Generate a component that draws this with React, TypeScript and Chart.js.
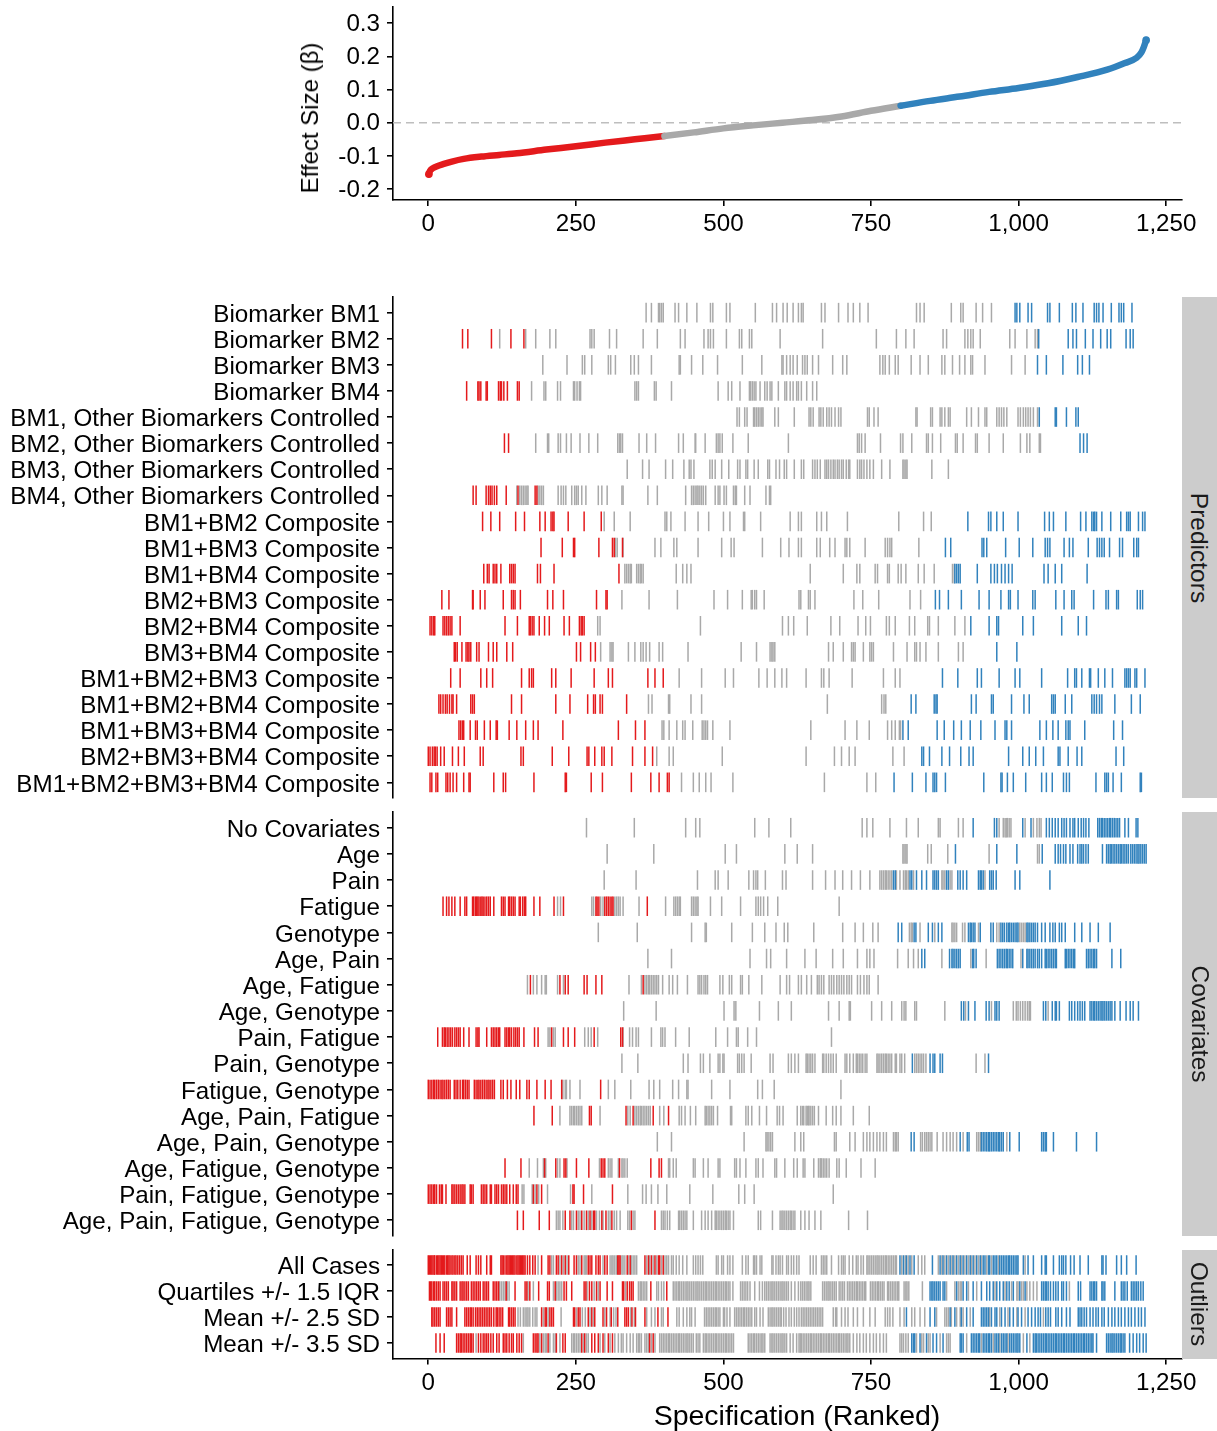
import React, { useEffect, useRef } from "react";
import { Chart, registerables } from "chart.js";

Chart.register(...registerables);

const FONT = "'Liberation Sans', Arial, Helvetica, sans-serif";
const RED = "#E41A1C";
const GRAY = "#A9A9A9";
const BLUE = "#3182BD";

// ---------- Top panel: ranked effect sizes ----------
const curveRanks = [1, 3, 8, 15, 25, 40, 60, 90, 120, 150, 200, 250, 300, 350, 400, 450, 500, 550, 600, 650, 700, 750, 800, 850, 900, 950, 1000, 1050, 1100, 1150, 1180, 1200, 1208, 1212, 1216];
const curveEffects = [-0.155, -0.145, -0.137, -0.131, -0.125, -0.117, -0.109, -0.102, -0.097, -0.092, -0.081, -0.071, -0.06, -0.05, -0.04, -0.029, -0.017, -0.008, 0.0, 0.008, 0.019, 0.036, 0.051, 0.066, 0.079, 0.093, 0.105, 0.119, 0.138, 0.16, 0.18, 0.196, 0.212, 0.228, 0.249];
const negSigEnd = 400;
const posSigStart = 800;

const xTickValues = [0, 250, 500, 750, 1000, 1250];
const yTickValues = [-0.2, -0.1, 0, 0.1, 0.2, 0.3];

// ---------- Predictors ----------
const predictorLabels = [
  "Biomarker BM1", "Biomarker BM2", "Biomarker BM3", "Biomarker BM4",
  "BM1, Other Biomarkers Controlled", "BM2, Other Biomarkers Controlled",
  "BM3, Other Biomarkers Controlled", "BM4, Other Biomarkers Controlled",
  "BM1+BM2 Composite", "BM1+BM3 Composite", "BM1+BM4 Composite",
  "BM2+BM3 Composite", "BM2+BM4 Composite", "BM3+BM4 Composite",
  "BM1+BM2+BM3 Composite", "BM1+BM2+BM4 Composite", "BM1+BM3+BM4 Composite",
  "BM2+BM3+BM4 Composite", "BM1+BM2+BM3+BM4 Composite",
];
const predictorRed = [
  [],
  [58, 67, 107, 140, 162],
  [],
  [65, 84, 86, 89, 98, 100, 119, 122, 124, 128, 134, 151, 154],
  [],
  [129, 136],
  [],
  [76, 81, 98, 102, 105, 108, 112, 116, 132, 152, 181, 184],
  [92, 106, 121, 148, 163, 189, 198, 208, 211, 213, 237, 264, 293],
  [191, 227, 246, 248, 289, 312, 315, 329],
  [94, 100, 103, 110, 113, 116, 123, 138, 141, 144, 147, 185, 190, 213, 323],
  [23, 35, 75, 76, 88, 96, 127, 141, 144, 147, 156, 202, 211, 229, 285, 301, 303],
  [3, 6, 9, 11, 25, 28, 31, 34, 37, 40, 54, 130, 151, 171, 173, 176, 179, 188, 197, 205, 230, 239, 256, 259, 261, 264],
  [44, 46, 49, 57, 64, 67, 69, 72, 82, 86, 102, 110, 116, 133, 143, 251, 258, 275, 283],
  [38, 54, 89, 99, 109, 158, 171, 175, 178, 209, 216, 242, 281, 305, 312, 372, 384, 398],
  [18, 21, 25, 29, 32, 36, 40, 42, 48, 72, 75, 78, 141, 158, 216, 240, 270, 280, 283, 291, 295, 336],
  [52, 55, 58, 60, 71, 80, 83, 95, 105, 115, 117, 137, 150, 165, 178, 186, 228, 322, 351, 367],
  [0, 3, 7, 10, 12, 15, 21, 27, 41, 51, 61, 88, 93, 157, 161, 210, 238, 269, 272, 282, 294, 298, 311, 346, 367, 380],
  [3, 6, 13, 16, 30, 33, 37, 42, 48, 60, 69, 71, 111, 127, 131, 179, 232, 234, 276, 295, 344, 377, 391, 405, 408],
];
const predictorGray = [
  [369, 378, 390, 392, 395, 398, 418, 424, 438, 455, 478, 482, 505, 511, 554, 583, 590, 601, 608, 618, 627, 632, 635, 666, 672, 695, 711, 720, 731, 745, 827, 833, 840, 886, 902, 906, 928, 939, 954],
  [121, 165, 182, 206, 216, 274, 277, 281, 307, 319, 364, 388, 427, 435, 467, 474, 478, 483, 505, 527, 531, 544, 548, 596, 668, 759, 793, 809, 823, 872, 878, 909, 914, 919, 923, 935, 985, 994, 1014, 1028, 1032],
  [194, 235, 261, 265, 277, 305, 309, 317, 343, 349, 356, 378, 425, 427, 446, 465, 490, 532, 565, 599, 601, 607, 613, 618, 625, 634, 638, 642, 651, 661, 685, 702, 709, 765, 770, 774, 781, 791, 796, 818, 833, 847, 870, 875, 888, 900, 909, 919, 922, 943, 988, 1011],
  [175, 196, 199, 219, 224, 246, 248, 252, 256, 258, 350, 353, 356, 383, 386, 412, 491, 508, 514, 528, 544, 546, 549, 552, 555, 562, 570, 574, 579, 582, 593, 604, 607, 613, 618, 624, 627, 632, 641, 651, 658],
  [523, 527, 536, 540, 551, 553, 556, 559, 562, 565, 567, 587, 593, 620, 645, 648, 652, 662, 665, 669, 675, 679, 683, 689, 695, 699, 744, 747, 755, 762, 826, 828, 851, 854, 867, 870, 875, 881, 884, 912, 920, 932, 943, 946, 963, 967, 971, 975, 980, 999, 1003, 1008, 1012, 1016, 1020, 1025, 1032],
  [182, 202, 204, 220, 224, 234, 242, 257, 272, 287, 321, 324, 326, 329, 357, 370, 385, 424, 432, 452, 453, 469, 488, 491, 494, 498, 516, 542, 610, 727, 730, 734, 740, 766, 800, 804, 819, 844, 847, 854, 868, 893, 896, 906, 927, 930, 950, 974, 1003, 1014, 1019, 1035, 1037],
  [337, 363, 374, 402, 414, 433, 442, 445, 450, 477, 481, 486, 497, 509, 524, 528, 538, 541, 552, 559, 575, 578, 589, 595, 603, 607, 620, 632, 636, 651, 655, 659, 664, 672, 675, 678, 682, 686, 689, 693, 696, 700, 703, 708, 712, 714, 727, 731, 734, 738, 743, 748, 754, 768, 782, 804, 806, 809, 811, 853, 881],
  [150, 155, 158, 161, 164, 167, 169, 186, 189, 192, 195, 220, 225, 229, 233, 243, 248, 251, 254, 260, 267, 288, 294, 303, 328, 330, 372, 388, 436, 446, 449, 452, 455, 457, 460, 463, 466, 470, 486, 491, 494, 501, 505, 517, 520, 522, 536, 545, 572, 578, 580],
  [298, 315, 342, 401, 404, 411, 435, 457, 475, 500, 511, 534, 536, 563, 613, 627, 632, 658, 666, 675, 710, 797, 839, 852],
  [317, 320, 330, 384, 394, 416, 421, 457, 497, 513, 518, 566, 597, 611, 627, 632, 658, 664, 680, 689, 706, 709, 714, 740, 774, 778, 782, 785, 831],
  [333, 336, 339, 342, 344, 353, 356, 359, 361, 364, 420, 431, 438, 445, 647, 703, 726, 731, 757, 761, 778, 781, 796, 801, 809, 830, 840, 857, 888, 891],
  [328, 374, 422, 484, 507, 532, 547, 549, 553, 556, 569, 628, 631, 644, 647, 655, 721, 736, 763, 816, 834],
  [287, 291, 461, 600, 610, 619, 642, 682, 697, 728, 741, 749, 776, 781, 791, 815, 824, 846, 849, 864, 892, 909],
  [292, 308, 311, 313, 339, 350, 360, 364, 369, 375, 391, 397, 440, 530, 556, 579, 582, 584, 587, 678, 686, 703, 717, 720, 723, 737, 748, 751, 754, 788, 811, 824, 827, 833, 843, 864, 898, 906],
  [425, 463, 503, 517, 560, 574, 587, 599, 607, 640, 666, 670, 679, 718, 771, 791, 799],
  [373, 379, 407, 409, 445, 463, 676, 768, 772, 775],
  [396, 399, 408, 421, 431, 435, 448, 464, 467, 470, 473, 482, 511, 648, 706, 726, 747, 778, 785, 791, 798, 800],
  [387, 408, 415, 498, 640, 688, 700, 713, 723, 787, 806],
  [429, 449, 459, 470, 479, 516, 671, 743, 758],
];
const predictorBlue = [
  [994, 997, 1002, 1016, 1022, 1049, 1053, 1069, 1091, 1097, 1109, 1128, 1132, 1136, 1143, 1157, 1170, 1174, 1178, 1192],
  [1034, 1084, 1092, 1098, 1113, 1126, 1139, 1150, 1156, 1182, 1189, 1194],
  [1032, 1047, 1075, 1100, 1108, 1120],
  [],
  [1035, 1062, 1064, 1081, 1097, 1101],
  [1104, 1110, 1116],
  [],
  [],
  [914, 949, 953, 963, 974, 999, 1044, 1052, 1059, 1080, 1105, 1114, 1124, 1127, 1129, 1132, 1141, 1156, 1173, 1183, 1186, 1189, 1203, 1210, 1214],
  [876, 885, 938, 941, 946, 978, 1001, 1024, 1045, 1049, 1053, 1077, 1086, 1092, 1118, 1133, 1137, 1141, 1145, 1154, 1171, 1176, 1195, 1200, 1203],
  [892, 895, 898, 901, 930, 953, 959, 964, 971, 977, 983, 989, 1043, 1050, 1062, 1073, 1116],
  [859, 866, 881, 903, 933, 950, 970, 983, 986, 999, 1024, 1028, 1063, 1077, 1090, 1094, 1127, 1148, 1152, 1166, 1169, 1201, 1206, 1210],
  [919, 950, 963, 966, 1007, 1025, 1073, 1101, 1115],
  [963, 997],
  [871, 897, 930, 937, 967, 994, 1002, 1039, 1083, 1095, 1098, 1107, 1120, 1122, 1135, 1146, 1159, 1180, 1183, 1186, 1189, 1197, 1200, 1214],
  [818, 826, 857, 860, 862, 920, 928, 954, 957, 988, 1009, 1018, 1056, 1059, 1062, 1079, 1090, 1124, 1128, 1132, 1137, 1141, 1163, 1191, 1206],
  [804, 813, 862, 874, 890, 903, 918, 936, 960, 977, 980, 988, 1036, 1047, 1058, 1067, 1080, 1084, 1087, 1112, 1161, 1176],
  [836, 839, 849, 870, 883, 902, 916, 923, 983, 1007, 1018, 1029, 1042, 1067, 1070, 1084, 1099, 1107, 1165, 1178],
  [789, 820, 843, 855, 858, 861, 876, 941, 970, 972, 981, 991, 1012, 1039, 1047, 1057, 1076, 1081, 1086, 1131, 1146, 1149, 1152, 1160, 1174, 1206, 1208],
];

// ---------- Covariates ----------
const covariateLabels = [
  "No Covariates", "Age", "Pain", "Fatigue", "Genotype", "Age, Pain", "Age, Fatigue",
  "Age, Genotype", "Pain, Fatigue", "Pain, Genotype", "Fatigue, Genotype",
  "Age, Pain, Fatigue", "Age, Pain, Genotype", "Age, Fatigue, Genotype",
  "Pain, Fatigue, Genotype", "Age, Pain, Fatigue, Genotype",
];
const covariateRed = [
  [],
  [],
  [],
  [25, 31, 35, 40, 45, 54, 62, 65, 75, 77, 80, 82, 84, 86, 89, 91, 93, 96, 99, 102, 105, 111, 124, 127, 130, 136, 138, 141, 144, 147, 154, 156, 160, 163, 165, 179, 189, 213, 229, 284, 286, 289, 299, 302, 305, 308, 311, 313, 371],
  [],
  [],
  [173, 223, 232, 237, 264, 269, 284, 294, 364],
  [],
  [16, 24, 27, 29, 32, 35, 38, 41, 45, 48, 51, 54, 60, 69, 81, 84, 86, 99, 107, 110, 113, 116, 119, 121, 130, 133, 136, 138, 141, 145, 148, 151, 154, 162, 180, 186, 209, 229, 237, 248, 281, 326, 329],
  [],
  [0, 3, 6, 9, 11, 14, 17, 20, 23, 25, 28, 31, 34, 37, 44, 47, 50, 54, 58, 60, 63, 66, 69, 78, 81, 84, 86, 89, 92, 95, 98, 101, 103, 106, 109, 112, 123, 127, 134, 140, 149, 155, 167, 171, 184, 198, 208, 226, 292],
  [179, 210, 273, 276, 335, 347, 381, 407],
  [],
  [130, 157, 197, 216, 230, 233, 251, 272, 293, 296, 299, 324, 377, 391, 395],
  [0, 3, 6, 9, 11, 14, 19, 22, 24, 30, 40, 42, 45, 48, 51, 54, 57, 59, 62, 71, 73, 76, 90, 93, 96, 99, 105, 107, 113, 116, 119, 124, 127, 130, 133, 138, 144, 149, 152, 178, 184, 192, 245, 247, 263, 312],
  [151, 161, 188, 205, 232, 240, 251, 260, 268, 274, 280, 282, 294, 301, 311, 344, 384],
];
const covariateGray = [
  [268, 349, 436, 453, 460, 553, 577, 614, 735, 743, 753, 782, 810, 830, 864, 867, 898, 906, 967, 974, 977, 979, 981, 984, 987, 1011, 1025, 1031, 1035, 1038],
  [303, 382, 503, 522, 604, 625, 651, 804, 806, 809, 811, 846, 852, 880, 950, 1032, 1035],
  [298, 352, 456, 486, 491, 508, 543, 551, 555, 558, 571, 600, 606, 651, 673, 689, 702, 717, 732, 748, 765, 768, 771, 774, 776, 779, 782, 785, 793, 799, 805, 808, 810, 813, 822, 870, 872, 875, 884, 887, 943],
  [219, 224, 277, 280, 292, 296, 316, 319, 322, 325, 330, 357, 402, 416, 419, 422, 425, 427, 446, 449, 452, 455, 457, 478, 497, 529, 555, 559, 563, 568, 575, 592, 696],
  [288, 354, 446, 469, 471, 514, 549, 570, 589, 603, 609, 653, 702, 723, 737, 753, 762, 815, 818, 820, 833, 858, 887, 889, 892, 895, 905, 909, 932, 963, 967, 1002, 1005, 1008, 1011],
  [372, 412, 545, 573, 580, 607, 638, 657, 685, 703, 727, 743, 748, 755, 795, 813, 822, 830, 870, 919, 945, 1004],
  [168, 178, 184, 192, 198, 200, 219, 229, 340, 361, 367, 370, 373, 375, 378, 381, 384, 387, 390, 397, 408, 414, 422, 439, 457, 460, 463, 467, 470, 473, 494, 499, 510, 514, 529, 532, 543, 565, 596, 607, 612, 627, 632, 641, 649, 659, 662, 666, 670, 679, 683, 687, 692, 696, 700, 704, 709, 713, 717, 727, 732, 738, 743, 747, 762],
  [331, 386, 501, 518, 521, 561, 593, 615, 678, 696, 713, 715, 751, 768, 785, 802, 806, 809, 824, 827, 875, 910, 954, 991, 996, 999, 1003, 1007, 1011, 1015, 1018, 1020, 1050],
  [203, 206, 212, 215, 265, 271, 276, 287, 330, 341, 346, 352, 356, 378, 394, 397, 401, 419, 442, 487, 507, 522, 525, 541, 556, 683],
  [328, 355, 432, 440, 461, 466, 477, 491, 494, 499, 501, 524, 527, 531, 535, 547, 579, 584, 610, 615, 621, 627, 640, 642, 645, 648, 651, 655, 668, 670, 674, 678, 682, 686, 691, 706, 709, 714, 720, 725, 727, 730, 733, 736, 740, 743, 760, 762, 765, 768, 771, 774, 776, 779, 782, 785, 791, 793, 799, 802, 807, 824, 827, 830, 833, 836, 839, 843, 928, 943],
  [228, 232, 234, 240, 257, 305, 316, 343, 374, 382, 392, 414, 424, 438, 440, 480, 511, 558, 566, 586, 699],
  [223, 240, 243, 246, 248, 251, 254, 257, 260, 291, 338, 342, 350, 353, 356, 359, 361, 364, 367, 370, 373, 376, 392, 399, 425, 429, 435, 444, 453, 469, 471, 474, 477, 480, 483, 490, 512, 514, 538, 542, 548, 561, 573, 591, 595, 601, 625, 631, 634, 636, 640, 642, 644, 645, 648, 651, 654, 661, 674, 685, 691, 699, 720, 747],
  [388, 412, 535, 572, 574, 577, 580, 583, 621, 631, 636, 688, 691, 714, 723, 737, 743, 748, 754, 760, 765, 771, 776, 788, 791, 793, 796, 834, 837, 841, 844, 847, 850, 853, 862, 872, 878, 884, 889, 895, 906, 929, 932, 935, 980],
  [171, 185, 195, 199, 219, 223, 235, 290, 305, 308, 311, 322, 328, 330, 333, 337, 407, 409, 415, 420, 449, 452, 466, 474, 491, 494, 519, 522, 528, 538, 555, 559, 567, 587, 590, 604, 619, 625, 635, 638, 653, 661, 664, 666, 669, 672, 675, 679, 692, 696, 708, 733, 757],
  [159, 162, 176, 181, 187, 202, 241, 277, 338, 363, 369, 378, 389, 404, 443, 482, 526, 536, 552, 686],
  [217, 220, 223, 228, 243, 246, 254, 257, 264, 271, 277, 285, 290, 296, 305, 308, 315, 319, 325, 338, 341, 347, 350, 395, 398, 401, 405, 409, 424, 426, 429, 432, 435, 438, 449, 463, 469, 474, 480, 486, 488, 491, 494, 497, 500, 503, 505, 508, 511, 517, 559, 563, 583, 596, 599, 601, 604, 607, 610, 613, 615, 618, 621, 631, 638, 645, 655, 665, 712, 744],
];
const covariateBlue = [
  [923, 959, 963, 1007, 1021, 1047, 1052, 1057, 1062, 1067, 1073, 1077, 1081, 1087, 1092, 1095, 1101, 1106, 1110, 1114, 1119, 1134, 1137, 1140, 1142, 1145, 1148, 1151, 1154, 1156, 1159, 1162, 1165, 1168, 1171, 1180, 1186, 1199, 1202],
  [893, 963, 997, 1040, 1062, 1067, 1071, 1076, 1080, 1087, 1092, 1100, 1104, 1107, 1110, 1114, 1118, 1142, 1149, 1152, 1155, 1157, 1160, 1163, 1166, 1169, 1172, 1174, 1177, 1180, 1183, 1186, 1190, 1193, 1196, 1199, 1202, 1204, 1207, 1210, 1213, 1216],
  [788, 791, 816, 819, 827, 836, 844, 855, 858, 861, 864, 878, 881, 897, 901, 906, 912, 932, 935, 937, 940, 951, 954, 957, 962, 994, 1002, 1053],
  [],
  [796, 802, 823, 826, 847, 854, 864, 870, 915, 918, 920, 923, 926, 935, 953, 957, 970, 973, 976, 980, 983, 985, 988, 991, 994, 997, 999, 1014, 1016, 1019, 1022, 1025, 1028, 1032, 1039, 1045, 1053, 1058, 1062, 1069, 1073, 1079, 1095, 1107, 1121, 1135, 1155],
  [836, 841, 883, 887, 889, 892, 895, 898, 901, 922, 924, 928, 964, 967, 970, 973, 976, 979, 981, 984, 987, 990, 1007, 1014, 1016, 1019, 1022, 1025, 1028, 1032, 1035, 1039, 1045, 1047, 1050, 1053, 1056, 1059, 1062, 1064, 1079, 1081, 1084, 1087, 1090, 1093, 1095, 1115, 1118, 1121, 1124, 1127, 1129, 1132, 1158, 1173],
  [],
  [903, 907, 915, 926, 945, 950, 960, 963, 967, 1042, 1046, 1057, 1062, 1064, 1069, 1086, 1090, 1095, 1100, 1104, 1108, 1112, 1121, 1124, 1127, 1129, 1132, 1135, 1138, 1141, 1143, 1146, 1149, 1152, 1155, 1158, 1163, 1172, 1182, 1189, 1194, 1203],
  [],
  [820, 850, 855, 858, 867, 871, 949],
  [],
  [],
  [818, 823, 901, 913, 916, 937, 940, 943, 946, 949, 951, 954, 957, 960, 963, 966, 968, 971, 974, 985, 1001, 1039, 1042, 1045, 1047, 1059, 1098, 1132],
  [],
  [],
  [],
];

// ---------- Outliers ----------
const outlierLabels = ["All Cases", "Quartiles +/- 1.5 IQR", "Mean +/- 2.5 SD", "Mean +/- 3.5 SD"];
const outlierRed = [
  [0, 2, 4, 6, 8, 10, 11, 14, 16, 18, 20, 22, 24, 26, 28, 31, 33, 35, 37, 40, 42, 45, 47, 50, 53, 56, 59, 66, 71, 81, 85, 89, 99, 105, 107, 123, 125, 127, 130, 133, 135, 137, 139, 141, 143, 145, 147, 150, 152, 154, 156, 158, 160, 162, 164, 168, 172, 177, 181, 192, 203, 206, 217, 220, 226, 232, 238, 247, 251, 260, 271, 274, 277, 284, 288, 291, 299, 303, 321, 323, 325, 337, 342, 367, 373, 378, 384, 390, 392, 398],
  [2, 4, 6, 9, 11, 14, 17, 20, 25, 28, 31, 34, 40, 42, 45, 48, 54, 57, 59, 62, 65, 68, 73, 76, 79, 82, 85, 88, 93, 96, 99, 102, 110, 113, 116, 119, 132, 147, 164, 167, 172, 187, 202, 205, 215, 230, 234, 243, 264, 267, 273, 277, 285, 291, 303, 312, 329, 331, 337, 341, 344, 347, 377, 404],
  [6, 8, 11, 14, 17, 20, 31, 34, 37, 40, 48, 62, 65, 68, 71, 73, 76, 80, 83, 86, 89, 92, 95, 98, 101, 104, 107, 111, 115, 117, 120, 123, 126, 136, 138, 141, 144, 147, 192, 198, 200, 206, 209, 212, 246, 248, 254, 257, 271, 277, 282, 296, 302, 310, 321, 333, 336, 339, 345, 351, 367, 389, 406],
  [13, 20, 27, 48, 51, 54, 56, 59, 62, 65, 68, 71, 73, 76, 85, 89, 93, 96, 99, 102, 106, 110, 116, 120, 127, 130, 133, 137, 141, 144, 150, 154, 158, 178, 181, 184, 186, 192, 203, 217, 228, 232, 260, 265, 277, 282, 288, 296, 305, 312, 375, 381],
];
const outlierGray = [
  [186, 209, 212, 223, 229, 235, 254, 257, 264, 266, 268, 296, 308, 311, 313, 316, 319, 328, 330, 333, 339, 344, 347, 350, 353, 370, 375, 381, 387, 395, 401, 404, 407, 412, 415, 420, 425, 431, 438, 449, 453, 457, 461, 465, 488, 491, 497, 500, 507, 511, 516, 532, 538, 542, 551, 553, 556, 562, 565, 582, 584, 589, 593, 596, 600, 607, 610, 615, 619, 624, 628, 647, 652, 657, 666, 669, 672, 675, 683, 695, 700, 703, 706, 713, 719, 725, 728, 733, 737, 743, 745, 748, 751, 754, 757, 760, 762, 765, 768, 771, 774, 776, 779, 782, 785, 788, 791, 793, 802, 808, 813, 819, 830, 836, 841, 864, 870, 875, 881, 887, 892, 898, 903, 909, 915, 920, 926, 932, 937, 946, 954, 966, 1011],
  [121, 124, 127, 130, 134, 137, 169, 178, 212, 217, 220, 223, 226, 269, 281, 288, 334, 356, 359, 361, 364, 367, 370, 387, 390, 395, 399, 415, 418, 421, 424, 426, 429, 432, 435, 438, 440, 443, 446, 449, 452, 455, 457, 460, 463, 466, 469, 471, 474, 477, 480, 483, 486, 488, 491, 494, 497, 500, 503, 505, 508, 511, 516, 529, 532, 535, 538, 541, 545, 553, 561, 566, 570, 573, 576, 579, 582, 584, 587, 590, 593, 596, 599, 601, 604, 607, 610, 615, 621, 627, 631, 634, 637, 640, 643, 645, 648, 668, 671, 674, 677, 679, 682, 685, 688, 691, 696, 699, 702, 705, 710, 713, 716, 719, 722, 725, 727, 730, 733, 736, 739, 741, 749, 752, 755, 758, 761, 763, 766, 769, 772, 778, 780, 783, 786, 789, 792, 795, 797, 806, 809, 811, 814, 837, 878, 892, 898, 901, 903, 915, 929, 960, 977, 988, 997, 999, 1005, 1008, 1014, 1019, 1025, 1031, 1086],
  [152, 156, 161, 164, 167, 169, 172, 177, 181, 184, 195, 203, 225, 251, 261, 266, 274, 280, 299, 308, 314, 318, 343, 349, 370, 378, 384, 395, 398, 421, 425, 432, 438, 443, 446, 452, 468, 471, 474, 477, 480, 483, 486, 488, 491, 494, 500, 502, 506, 511, 519, 522, 525, 528, 531, 534, 536, 539, 542, 545, 548, 553, 556, 562, 567, 576, 579, 582, 584, 587, 590, 593, 596, 598, 602, 606, 611, 615, 620, 624, 628, 632, 635, 638, 641, 644, 647, 650, 653, 656, 659, 662, 665, 668, 686, 690, 692, 700, 706, 711, 720, 727, 737, 748, 757, 774, 778, 782, 787, 799, 806, 819, 824, 833, 841, 861, 875, 878, 881, 886, 895, 901, 906, 918, 951, 968, 982, 997, 1011, 1042],
  [81, 161, 189, 195, 198, 200, 206, 212, 215, 223, 243, 246, 248, 251, 254, 257, 263, 268, 271, 291, 299, 308, 316, 322, 327, 330, 336, 342, 347, 353, 356, 358, 361, 367, 370, 373, 378, 384, 392, 395, 398, 401, 404, 407, 409, 412, 415, 418, 421, 424, 426, 429, 432, 435, 438, 440, 443, 446, 449, 454, 457, 460, 466, 469, 471, 474, 477, 480, 483, 486, 488, 491, 494, 497, 500, 503, 505, 508, 511, 514, 517, 542, 545, 548, 551, 553, 556, 559, 562, 565, 567, 570, 579, 582, 584, 587, 590, 593, 596, 599, 601, 604, 607, 613, 618, 624, 628, 630, 632, 635, 638, 641, 644, 647, 649, 652, 655, 658, 661, 664, 666, 669, 672, 675, 678, 680, 683, 686, 689, 692, 695, 697, 700, 703, 706, 709, 711, 714, 720, 726, 731, 737, 742, 748, 754, 759, 765, 771, 776, 799, 802, 805, 809, 813, 827, 836, 839, 847, 850, 867, 878, 881, 884, 912, 937, 957, 968, 982, 1008, 1019],
];
const outlierBlue = [
  [799, 805, 810, 816, 823, 854, 867, 872, 878, 884, 889, 895, 901, 906, 912, 918, 923, 929, 935, 940, 943, 949, 951, 957, 960, 963, 968, 971, 974, 977, 980, 983, 985, 988, 991, 994, 997, 999, 1008, 1016, 1025, 1039, 1045, 1047, 1059, 1069, 1073, 1076, 1080, 1088, 1094, 1104, 1118, 1141, 1143, 1148, 1166, 1174, 1183, 1199],
  [850, 853, 855, 858, 861, 864, 867, 872, 875, 895, 906, 912, 923, 937, 946, 951, 957, 963, 968, 974, 980, 984, 991, 1002, 1011, 1039, 1042, 1045, 1047, 1050, 1054, 1059, 1063, 1067, 1073, 1076, 1081, 1101, 1105, 1121, 1124, 1127, 1129, 1132, 1141, 1143, 1146, 1163, 1174, 1177, 1180, 1184, 1191, 1194, 1197, 1200, 1203, 1207, 1211],
  [810, 850, 858, 884, 892, 903, 912, 923, 937, 940, 943, 946, 949, 954, 960, 963, 971, 977, 985, 991, 999, 1005, 1016, 1022, 1028, 1033, 1037, 1046, 1050, 1054, 1063, 1067, 1073, 1081, 1087, 1101, 1104, 1107, 1111, 1115, 1121, 1126, 1131, 1135, 1141, 1145, 1152, 1158, 1163, 1169, 1174, 1180, 1186, 1191, 1197, 1203, 1208, 1214],
  [819, 822, 824, 833, 844, 855, 861, 872, 901, 903, 906, 920, 923, 926, 929, 932, 934, 940, 943, 946, 949, 951, 954, 960, 963, 966, 971, 974, 977, 980, 985, 988, 991, 994, 997, 999, 1002, 1014, 1025, 1028, 1030, 1033, 1036, 1039, 1042, 1045, 1047, 1050, 1053, 1056, 1059, 1062, 1064, 1067, 1070, 1073, 1076, 1078, 1081, 1084, 1087, 1090, 1093, 1095, 1098, 1101, 1104, 1107, 1110, 1112, 1115, 1118, 1121, 1124, 1126, 1132, 1149, 1152, 1155, 1158, 1160, 1163, 1166, 1169, 1172, 1174, 1177, 1180, 1188, 1194, 1200, 1205, 1211, 1216],
];

// ---------- shared chart settings ----------
const X_MIN = -59.75;
const X_MAX = 1276.75;
const LEFT_W = 393;
const RIGHT_PAD = 35;
const TICK_FONT = { family: FONT, size: 24.2 };

const gridOpts = { display: true, drawOnChartArea: false, drawTicks: true, tickLength: 6, color: "#000", lineWidth: 1.6 };
const borderOpts = { display: true, color: "#000", width: 1.6 };

function xAxis(show: boolean, height: number) {
  return {
    type: "linear",
    min: X_MIN,
    max: X_MAX,
    bounds: "data",
    display: show,
    afterBuildTicks: (s: any) => { s.ticks = xTickValues.map((value) => ({ value })); },
    afterFit: (s: any) => { s.height = height; s.paddingLeft = 0; s.paddingRight = 0; s.paddingTop = 0; s.paddingBottom = 0; },
    grid: gridOpts,
    border: borderOpts,
    ticks: {
      font: TICK_FONT, color: "#000", padding: 4, maxRotation: 0, minRotation: 0, autoSkip: false,
      callback: (v: any) => Number(v).toLocaleString("en-US"),
    },
  };
}

function rowAxis(labels: string[]) {
  return {
    type: "linear",
    reverse: true,
    min: -0.6,
    max: labels.length - 1 + 0.6,
    bounds: "data",
    afterBuildTicks: (s: any) => { s.ticks = labels.map((_, value) => ({ value })); },
    afterFit: (s: any) => { s.width = LEFT_W; s.paddingTop = 0; s.paddingBottom = 0; s.paddingLeft = 0; s.paddingRight = 0; },
    grid: gridOpts,
    border: borderOpts,
    ticks: {
      font: TICK_FONT, color: "#000", padding: 7, autoSkip: false, labelOffset: 2.5,
      callback: (v: any) => labels[Math.round(Number(v))],
    },
  };
}

function tickDatasets(red: number[][], gray: number[][], blue: number[][]) {
  const mk = (rows: number[][], color: string) => ({
    data: rows.flatMap((ranks, row) => ranks.map((x) => ({ x, y: row }))),
    showLine: false,
    pointStyle: "line",
    pointRotation: 90,
    pointRadius: 9.8,
    pointHoverRadius: 9.8,
    pointBorderWidth: 1.5,
    pointBorderColor: color,
    pointBackgroundColor: color,
  });
  return [mk(blue, BLUE), mk(red, RED), mk(gray, GRAY)];
}

const baseOptions = (padding: any, scales: any) => ({
  animation: false,
  responsive: false,
  devicePixelRatio: 1,
  events: [],
  layout: { padding },
  plugins: { legend: { display: false }, tooltip: { enabled: false } },
  scales,
});

const rankColor = (x: number) => (x < negSigEnd ? RED : x < posSigStart ? GRAY : BLUE);

export default function App() {
  const topRef = useRef<HTMLCanvasElement>(null);
  const predRef = useRef<HTMLCanvasElement>(null);
  const covRef = useRef<HTMLCanvasElement>(null);
  const outRef = useRef<HTMLCanvasElement>(null);

  useEffect(() => {
    const charts: Chart[] = [];
    const last = curveRanks.length - 1;

    charts.push(new Chart(topRef.current as HTMLCanvasElement, {
      type: "scatter",
      data: {
        datasets: [
          {
            data: curveRanks.map((x, i) => ({ x, y: curveEffects[i] })),
            showLine: true,
            borderWidth: 6.5,
            borderCapStyle: "round",
            borderJoinStyle: "round",
            cubicInterpolationMode: "monotone",
            segment: { borderColor: (ctx: any) => rankColor((ctx.p0.parsed.x + ctx.p1.parsed.x) / 2) },
            borderColor: GRAY,
            pointRadius: (ctx: any) => (ctx.dataIndex === 0 || ctx.dataIndex === last ? 3.8 : 0),
            pointBackgroundColor: (ctx: any) => rankColor(curveRanks[ctx.dataIndex] ?? 0),
            pointBorderWidth: 0,
          } as any,
          {
            data: [{ x: X_MIN, y: 0 }, { x: X_MAX, y: 0 }],
            showLine: true,
            borderColor: "#BEBEBE",
            borderWidth: 1.5,
            borderDash: [8, 5],
            pointRadius: 0,
          } as any,
        ],
      },
      options: baseOptions({ left: 0, right: RIGHT_PAD, top: 7, bottom: 0 }, {
        x: xAxis(true, 60),
        y: {
          type: "linear",
          min: -0.233,
          max: 0.349,
          bounds: "data",
          afterBuildTicks: (s: any) => { s.ticks = yTickValues.map((value) => ({ value })); },
          afterFit: (s: any) => { s.width = LEFT_W; s.paddingTop = 0; s.paddingBottom = 0; },
          grid: gridOpts,
          border: borderOpts,
          ticks: { font: TICK_FONT, color: "#000", padding: 7, autoSkip: false, labelOffset: 1, callback: (v: any) => Number(v).toFixed(1) },
        },
      }) as any,
    }));

    // panel plot areas: predictors 297-798, covariates 812-1236, outliers 1249.5-1358.5 (page px)
    charts.push(new Chart(predRef.current as HTMLCanvasElement, {
      type: "scatter",
      data: { datasets: tickDatasets(predictorRed, predictorGray, predictorBlue) as any },
      options: baseOptions({ left: 0, right: RIGHT_PAD, top: 12, bottom: 12 }, {
        x: xAxis(false, 0),
        y: rowAxis(predictorLabels),
      }) as any,
    }));

    charts.push(new Chart(covRef.current as HTMLCanvasElement, {
      type: "scatter",
      data: { datasets: tickDatasets(covariateRed, covariateGray, covariateBlue) as any },
      options: baseOptions({ left: 0, right: RIGHT_PAD, top: 12, bottom: 12 }, {
        x: xAxis(false, 0),
        y: rowAxis(covariateLabels),
      }) as any,
    }));

    charts.push(new Chart(outRef.current as HTMLCanvasElement, {
      type: "scatter",
      data: { datasets: tickDatasets(outlierRed, outlierGray, outlierBlue) as any },
      options: baseOptions({ left: 0, right: RIGHT_PAD, top: 12.5, bottom: 0 }, {
        x: xAxis(true, 72.5),
        y: rowAxis(outlierLabels),
      }) as any,
    }));

    return () => charts.forEach((c) => c.destroy());
  }, []);

  const strip = (top: number, height: number, text: string) => (
    <div
      style={{
        position: "absolute", left: 1182, top, width: 35, height, background: "#CCCCCC",
        display: "flex", alignItems: "center", justifyContent: "center", overflow: "visible",
      }}
    >
      <span style={{ transform: "rotate(90deg)", whiteSpace: "nowrap", fontSize: 24.5, color: "#1A1A1A", fontFamily: FONT }}>{text}</span>
    </div>
  );

  return (
    <div style={{ position: "absolute", left: 0, top: 0, width: 1217, height: 1431, background: "#FFFFFF", fontFamily: FONT, overflow: "hidden" }}>
      <canvas ref={topRef} width={1217} height={260} style={{ position: "absolute", left: 0, top: 0 }} />
      <canvas ref={predRef} width={1217} height={525} style={{ position: "absolute", left: 0, top: 285 }} />
      <canvas ref={covRef} width={1217} height={448} style={{ position: "absolute", left: 0, top: 800 }} />
      <canvas ref={outRef} width={1217} height={194} style={{ position: "absolute", left: 0, top: 1237 }} />
      <div
        style={{
          position: "absolute", left: 310, top: 118, transform: "translate(-50%, -50%) rotate(-90deg)",
          whiteSpace: "nowrap", fontSize: 24, color: "#000",
        }}
      >
        Effect Size (β)
      </div>
      <div
        style={{
          position: "absolute", left: 797, top: 1415, transform: "translate(-50%, -50%)",
          whiteSpace: "nowrap", fontSize: 28.5, color: "#000",
        }}
      >
        Specification (Ranked)
      </div>
      {strip(297, 501, "Predictors")}
      {strip(812, 424, "Covariates")}
      {strip(1249.5, 109, "Outliers")}
    </div>
  );
}
